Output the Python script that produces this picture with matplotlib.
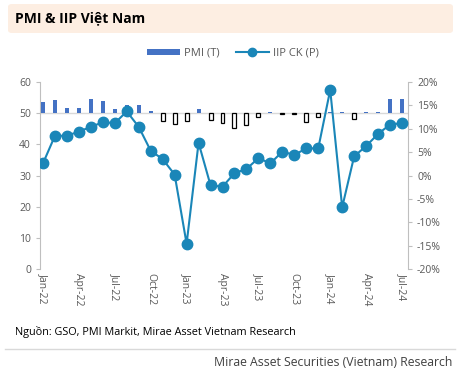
import matplotlib.pyplot as plt
from matplotlib.patches import FancyBboxPatch
from matplotlib.lines import Line2D
from matplotlib.patches import Patch

plt.rcParams['font.family'] = ['Open Sans', 'DejaVu Sans']

months = ['Jan-22', 'Feb-22', 'Mar-22', 'Apr-22', 'May-22', 'Jun-22', 'Jul-22', 'Aug-22', 'Sep-22',
          'Oct-22', 'Nov-22', 'Dec-22', 'Jan-23', 'Feb-23', 'Mar-23', 'Apr-23', 'May-23', 'Jun-23',
          'Jul-23', 'Aug-23', 'Sep-23', 'Oct-23', 'Nov-23', 'Dec-23', 'Jan-24', 'Feb-24', 'Mar-24',
          'Apr-24', 'May-24', 'Jun-24', 'Jul-24']
pmi = [53.7, 54.3, 51.7, 51.7, 54.7, 54.0, 51.2, 52.7, 52.5, 50.6, 47.4, 46.4, 47.4, 51.2, 47.7,
       46.7, 45.3, 46.2, 48.7, 50.5, 49.7, 49.6, 47.3, 48.9, 50.3, 50.4, 48.2, 50.3, 50.3, 54.7, 54.7]
iip = [2.6, 8.5, 8.5, 9.4, 10.4, 11.4, 11.2, 13.7, 10.4, 5.3, 3.5, 0.2, -14.6, 7.0, -2.1,
       -2.4, 0.5, 1.4, 3.7, 2.6, 5.1, 4.4, 5.8, 5.8, 18.3, -6.8, 4.1, 6.3, 8.9, 10.9, 11.2]

x = list(range(len(months)))
fig = plt.figure(figsize=(4.76, 3.75), dpi=100)

# khung tieu de
band = FancyBboxPatch((8 / 476, 1 - 33 / 375), 445 / 476, 29 / 375,
                      boxstyle='round,pad=0,rounding_size=0.008', transform=fig.transFigure,
                      facecolor='#fdeee2', edgecolor='none')
fig.patches.append(band)
fig.text(15 / 476, 1 - 18 / 375, 'PMI & IIP Việt Nam', fontsize=10, fontweight='bold',
         va='center', ha='left')

ax = fig.add_axes([40 / 476, 1 - 269 / 375, 368 / 476, 187 / 375])
ax2 = ax.twinx()
ax.set_zorder(ax2.get_zorder() - 1)
ax2.patch.set_visible(False)

up = [p >= 50 for p in pmi]
ax.bar([i for i in x if up[i]], [pmi[i] - 50 for i in x if up[i]], bottom=50, width=0.33,
       color='#4472c4', zorder=3)
ax.bar([i for i in x if not up[i]], [pmi[i] - 50 for i in x if not up[i]], bottom=50, width=0.33,
       facecolor='white', edgecolor='black', linewidth=0.9, zorder=3)
ax.axhline(50, color='#d9d9d9', linewidth=1, zorder=2)

ax2.plot(x, iip, color='#1a86b8', linewidth=1.5, marker='o', markersize=7.5, zorder=4)

ax.set_ylim(0, 60)
ax.set_yticks(range(0, 61, 10))
ax2.set_ylim(-20, 20)
ax2.set_yticks(range(-20, 21, 5))
ax2.set_yticklabels([f'{v}%' for v in range(-20, 21, 5)])
ax.set_xlim(-0.25, 30.5)
ax.set_xticks(x[::3])
ax.set_xticklabels(months[::3], rotation=270)

for a in (ax, ax2):
    for s in ('top', 'bottom'):
        a.spines[s].set_visible(False)
    a.spines['left'].set_color('#bfbfbf')
    a.spines['right'].set_color('#bfbfbf')
    a.tick_params(colors='#595959', labelsize=7.5, length=3, width=0.8)
    a.tick_params(axis='y', colors='#bfbfbf', labelcolor='#595959')
ax.spines['right'].set_visible(False)
ax2.spines['left'].set_visible(False)
ax.tick_params(axis='x', length=0, pad=3)

handles = [Patch(facecolor='#4472c4', label='PMI (T)'),
           Line2D([0], [0], color='#1a86b8', linewidth=1.5, marker='o', markersize=6, label='IIP CK (P)')]
fig.legend(handles=handles, loc='center', bbox_to_anchor=(233 / 476, 1 - 53 / 375), ncol=2,
           frameon=False, fontsize=8, labelcolor='#595959', handlelength=3.0, handleheight=0.45,
           columnspacing=1.4, handletextpad=0.4)

fig.text(15 / 476, 1 - 332 / 375, 'Nguồn: GSO, PMI Markit, Mirae Asset Vietnam Research',
         fontsize=7.8, va='center', ha='left')
fig.add_artist(Line2D([5 / 476, 455 / 476], [1 - 349 / 375] * 2, color='#d9d9d9', linewidth=1,
                      transform=fig.transFigure))
fig.text(452 / 476, 1 - 362 / 375, 'Mirae Asset Securities (Vietnam) Research', fontsize=8.8,
         color='#404040', va='center', ha='right')

fig.savefig('out.png', dpi=100)
